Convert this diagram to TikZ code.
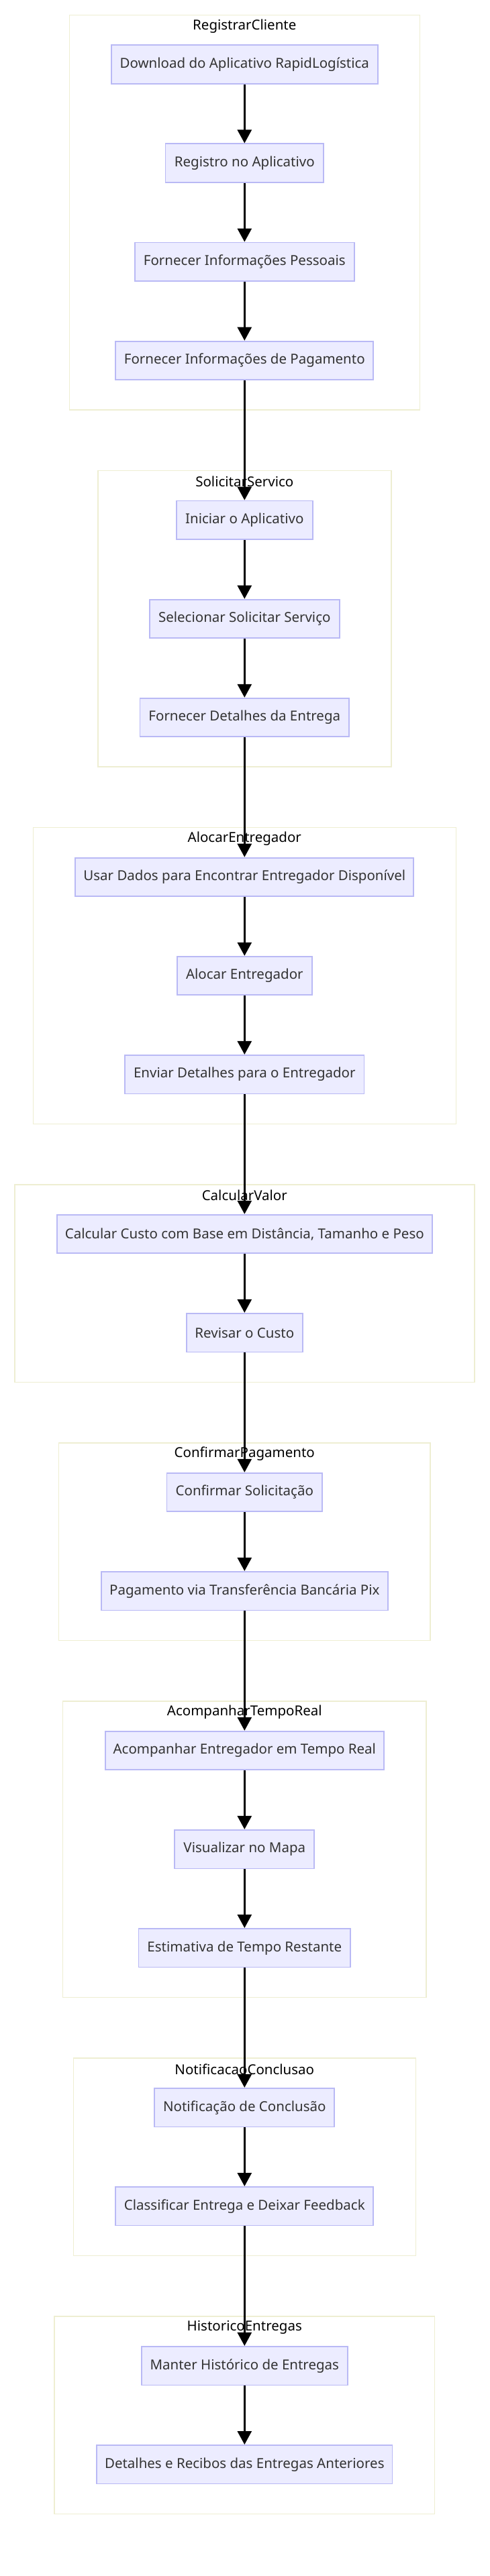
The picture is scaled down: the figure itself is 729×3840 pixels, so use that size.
\documentclass[tikz,border=0pt]{standalone}
\usepackage{fontspec}
\setmainfont{Noto Sans}
\usetikzlibrary{arrows.meta}
\definecolor{nodefill}{RGB}{236,236,255}
\definecolor{nodestroke}{RGB}{185,185,245}
\definecolor{clusterstroke}{RGB}{238,238,210}
\definecolor{textgray}{RGB}{51,51,51}
\newcommand\myboxfont{\fontsize{20.5}{24}\selectfont}
\tikzset{
  stepbox/.style={draw=nodestroke, fill=nodefill, line width=1.8pt, minimum height=57.6pt,
    inner sep=0pt, font=\myboxfont, text=textgray, minimum width=#1},
  clusterbox/.style 2 args={draw=clusterstroke, fill=white, line width=1.5pt, inner sep=0pt,
    minimum width=#1, minimum height=#2},
  clustertitle/.style={font=\myboxfont, text=black, inner sep=0pt},
  flow/.style={draw=black, line width=2.8pt, -{Triangle[length=20pt,width=21pt]}},
}
\begin{document}
\begin{tikzpicture}[x=1pt,y=-1pt]
\useasboundingbox (0,0) rectangle (729,3840);
\fill[white] (0,0) rectangle (729,3840);
% clusters
\node[clusterbox={522.1pt}{588.7pt}] (c1) at (364.3,316.75) {};
\node[clusterbox={437.1pt}{441.6pt}] (c2) at (364.3,922.4) {};
\node[clusterbox={630.1pt}{441.6pt}] (c3) at (364.3,1454.5) {};
\node[clusterbox={684.9pt}{294.5pt}] (c4) at (364.3,1913.05) {};
\node[clusterbox={553.8pt}{294.5pt}] (c5) at (364.3,2298.05) {};
\node[clusterbox={541.7pt}{441.6pt}] (c6) at (364.3,2756.6) {};
\node[clusterbox={510.1pt}{294.5pt}] (c7) at (364.3,3215.15) {};
\node[clusterbox={566.8pt}{294.5pt}] (c8) at (364.3,3600.15) {};
% cluster titles
\node[clustertitle] (t1) at (364.3,38.8) {RegistrarCliente};
\node[clustertitle] (t2) at (364.3,718) {SolicitarServico};
\node[clustertitle] (t3) at (364.3,1250.1) {AlocarEntregador};
\node[clustertitle] (t4) at (364.3,1782.2) {CalcularValor};
\node[clustertitle] (t5) at (364.3,2167.2) {ConfirmarPagamento};
\node[clustertitle] (t6) at (364.3,2552.2) {AcompanharTempoReal};
\node[clustertitle] (t7) at (364.3,3084.3) {NotificacaoConclusao};
\node[clustertitle] (t8) at (364.3,3469.3) {HistoricoEntregas};
% nodes
\node[stepbox=396.7pt] (a1) at (364.3,96.1) {Download do Aplicativo RapidLogística};
\node[stepbox=235.7pt] (a2) at (364.3,243.2) {Registro no Aplicativo};
\node[stepbox=326.9pt] (a3) at (364.3,390.3) {Fornecer Informações Pessoais};
\node[stepbox=384.1pt] (a4) at (364.3,537.4) {Fornecer Informações de Pagamento};
\node[stepbox=202.7pt] (b1) at (364.3,775.3) {Iniciar o Aplicativo};
\node[stepbox=282.7pt] (b2) at (364.3,922.4) {Selecionar Solicitar Serviço};
\node[stepbox=311.6pt] (b3) at (364.3,1069.5) {Fornecer Detalhes da Entrega};
\node[stepbox=504.1pt] (d1) at (364.3,1307.4) {Usar Dados para Encontrar Entregador Disponível};
\node[stepbox=201.3pt] (d2) at (364.3,1454.5) {Alocar Entregador};
\node[stepbox=356.2pt] (d3) at (364.3,1601.6) {Enviar Detalhes para o Entregador};
\node[stepbox=558.9pt] (e1) at (364.3,1839.5) {Calcular Custo com Base em Distância, Tamanho e Peso};
\node[stepbox=173.4pt] (e2) at (364.3,1986.6) {Revisar o Custo};
\node[stepbox=231.5pt] (f1) at (364.3,2224.5) {Confirmar Solicitação};
\node[stepbox=427.3pt] (f2) at (364.3,2371.6) {Pagamento via Transferência Bancária Pix};
\node[stepbox=415.3pt] (g1) at (364.3,2609.5) {Acompanhar Entregador em Tempo Real};
\node[stepbox=207.9pt] (g2) at (364.3,2756.6) {Visualizar no Mapa};
\node[stepbox=315.7pt] (g3) at (364.3,2903.7) {Estimativa de Tempo Restante};
\node[stepbox=267.9pt] (h1) at (364.3,3141.6) {Notificação de Conclusão};
\node[stepbox=384.1pt] (h2) at (364.3,3288.7) {Classificar Entrega e Deixar Feedback};
\node[stepbox=306.9pt] (k1) at (364.3,3526.6) {Manter Histórico de Entregas};
\node[stepbox=440.3pt] (k2) at (364.3,3673.7) {Detalhes e Recibos das Entregas Anteriores};
% connectors
\draw[flow] (a1.south) -- (a2.north);
\draw[flow] (a2.south) -- (a3.north);
\draw[flow] (a3.south) -- (a4.north);
\draw[flow] (a4.south) -- (b1.north);
\draw[flow] (b1.south) -- (b2.north);
\draw[flow] (b2.south) -- (b3.north);
\draw[flow] (b3.south) -- (d1.north);
\draw[flow] (d1.south) -- (d2.north);
\draw[flow] (d2.south) -- (d3.north);
\draw[flow] (d3.south) -- (e1.north);
\draw[flow] (e1.south) -- (e2.north);
\draw[flow] (e2.south) -- (f1.north);
\draw[flow] (f1.south) -- (f2.north);
\draw[flow] (f2.south) -- (g1.north);
\draw[flow] (g1.south) -- (g2.north);
\draw[flow] (g2.south) -- (g3.north);
\draw[flow] (g3.south) -- (h1.north);
\draw[flow] (h1.south) -- (h2.north);
\draw[flow] (h2.south) -- (k1.north);
\draw[flow] (k1.south) -- (k2.north);
\end{tikzpicture}
\end{document}
